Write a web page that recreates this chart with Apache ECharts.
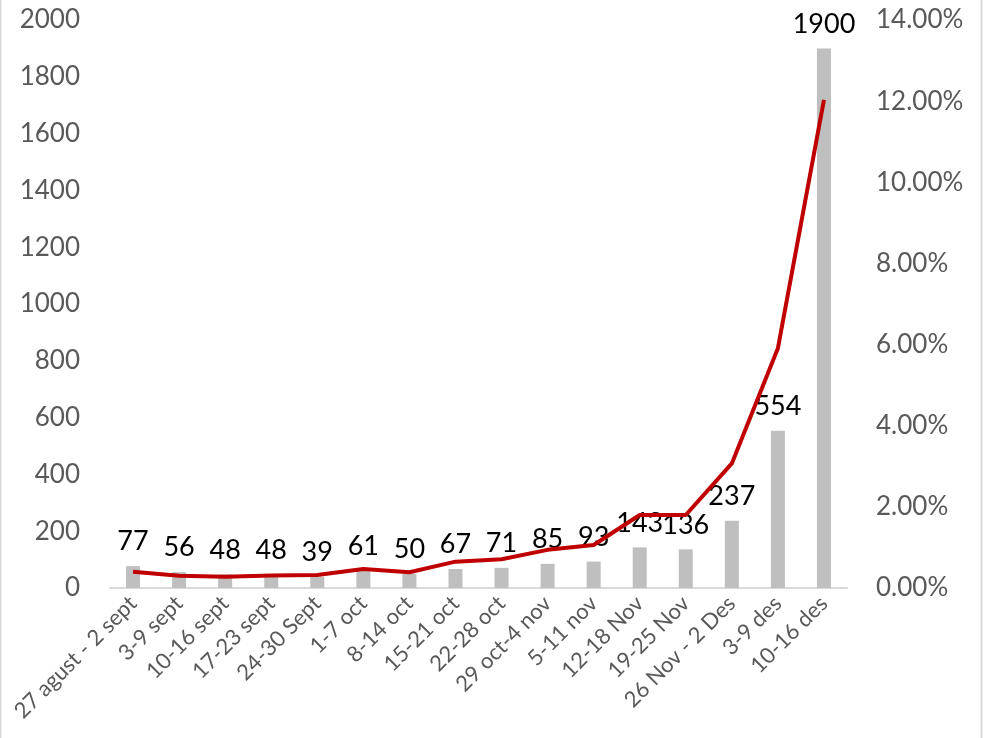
<!DOCTYPE html>
<html>
<head>
<meta charset="utf-8">
<script src="https://cdn.jsdelivr.net/npm/echarts@6/dist/echarts.min.js"></script>
<style>html,body{margin:0;padding:0;background:#fff}#c{width:985px;height:738px}</style>
</head>
<body>
<div id="c"></div>
<script>
const categories = ["27 agust - 2 sept","3-9 sept","10-16 sept","17-23 sept","24-30 Sept","1-7 oct","8-14 oct","15-21 oct","22-28 oct","29 oct-4 nov","5-11 nov","12-18 Nov","19-25 Nov","26 Nov - 2 Des","3-9 des","10-16 des"];
const counts = [77,56,48,48,39,61,50,67,71,85,93,143,136,237,554,1900];
const percents = [0.40,0.30,0.28,0.31,0.32,0.47,0.39,0.65,0.71,0.94,1.06,1.80,1.80,3.07,5.91,12.03];
const leftTicks = {min:0, max:2000, interval:200};
const rightTicks = {min:0, max:14, interval:2};

const chart = echarts.init(document.getElementById('c'), null, {renderer:'canvas'});
const font = 'Lato';
chart.setOption({
  animation:false,
  backgroundColor:'#fff',
  graphic:[{type:'rect', shape:{x:0.5,y:-2,width:981,height:742}, style:{fill:'none', stroke:'#d9d9d9', lineWidth:2}}],
  grid:{left:110, right:138, top:20, bottom:150},
  xAxis:{type:'category', data:categories,
    axisLine:{lineStyle:{color:'#d9d9d9', width:2}},
    axisTick:{show:false},
    axisLabel:{rotate:45, color:'#595959', fontFamily:font, fontSize:22, margin:12, interval:0}
  },
  yAxis:[
    {type:'value', min:leftTicks.min, max:leftTicks.max, interval:leftTicks.interval,
     axisLine:{show:false}, axisTick:{show:false}, splitLine:{show:false},
     axisLabel:{color:'#595959', fontFamily:font, fontSize:26, margin:30, formatter:v=>String(v)}},
    {type:'value', min:rightTicks.min, max:rightTicks.max, interval:rightTicks.interval,
     axisLine:{show:false}, axisTick:{show:false}, splitLine:{show:false},
     axisLabel:{color:'#595959', fontFamily:font, fontSize:26, margin:29, formatter:v=>v.toFixed(2)+'%'}}
  ],
  series:[
    {type:'bar', data:counts, barWidth:14, itemStyle:{color:'#bfbfbf'}, z:1,
     label:{show:true, position:'top', distance:11, color:'#000', fontFamily:font, fontSize:27}},
    {type:'line', yAxisIndex:1, data:percents, showSymbol:false, symbol:'none', z:2,
     lineStyle:{color:'#c00000', width:4}}
  ]
});
</script>
</body>
</html>
